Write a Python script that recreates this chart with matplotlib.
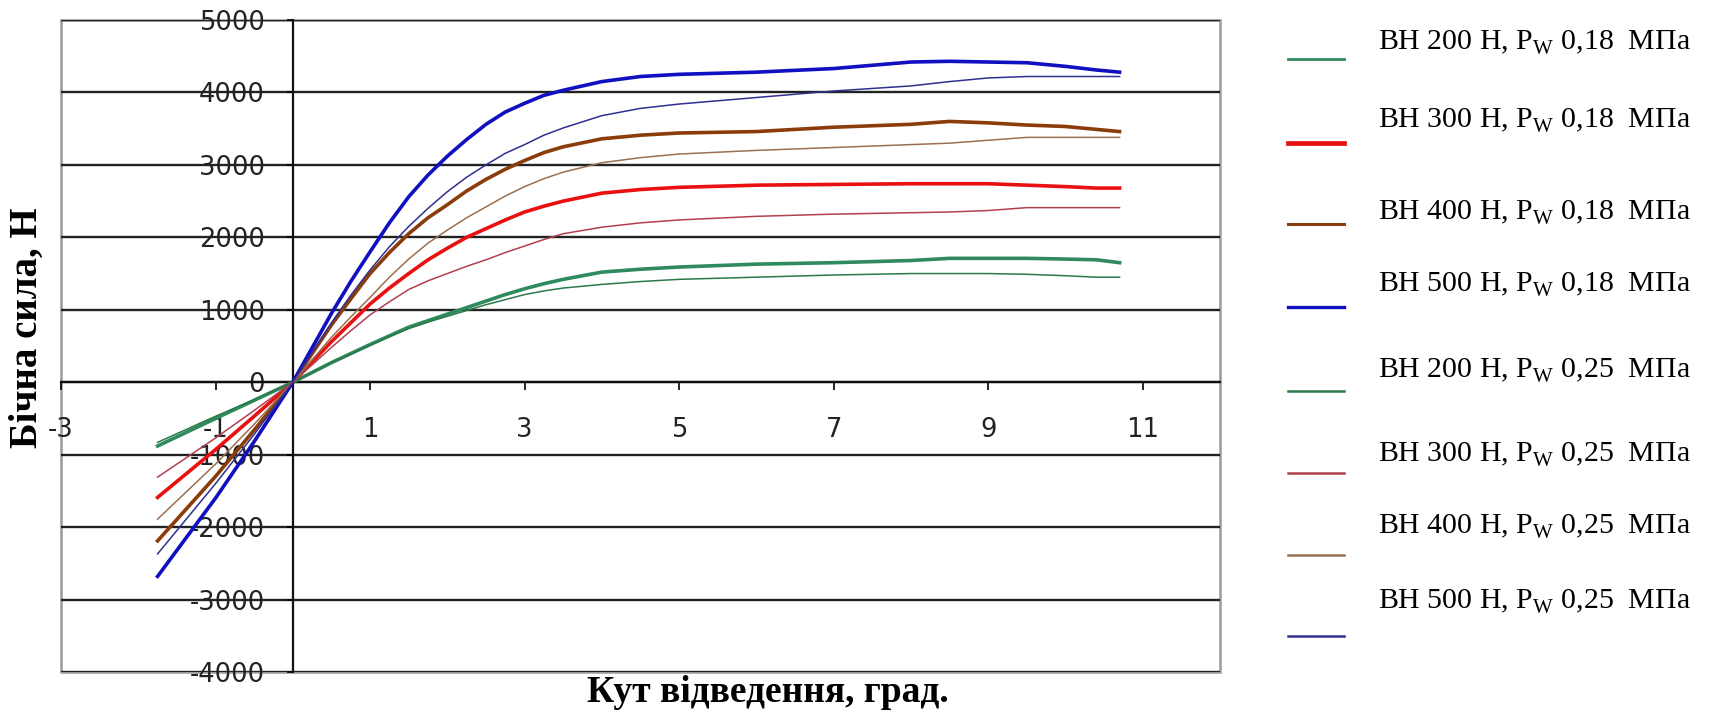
import numpy as np
import matplotlib
matplotlib.use('Agg')
import matplotlib.pyplot as plt
from matplotlib.lines import Line2D
from matplotlib.patches import Rectangle

plt.rcParams['axes.unicode_minus'] = False
plt.rcParams['mathtext.fontset'] = 'custom'
plt.rcParams['mathtext.rm'] = 'Liberation Serif'

# кут відведення, град.
kut = [-1.75, -1.0, -0.5, 0, 0.5, 0.75, 1.0, 1.25, 1.5, 1.75, 2.0, 2.25, 2.5, 2.75, 3.0,
       3.25, 3.5, 4.0, 4.5, 5.0, 6.0, 7.0, 8.0, 8.5, 9.0, 9.5, 10.0, 10.4, 10.7]

# бічна сила, Н  (Pw 0,18 МПа)
vn200_018 = [-880, -500, -250, 0, 270, 395, 520, 640, 760, 850, 940, 1030, 1120, 1210, 1290,
             1360, 1420, 1520, 1560, 1590, 1630, 1650, 1680, 1710, 1710, 1710, 1700, 1690, 1650]
vn300_018 = [-1590, -930, -470, 0, 560, 820, 1080, 1300, 1500, 1690, 1850, 2000, 2120, 2240, 2350,
             2430, 2500, 2610, 2660, 2690, 2720, 2730, 2740, 2740, 2740, 2720, 2700, 2680, 2680]
vn400_018 = [-2190, -1300, -660, 0, 790, 1150, 1500, 1790, 2050, 2270, 2450, 2640, 2800, 2940, 3060,
             3170, 3250, 3360, 3410, 3440, 3460, 3520, 3560, 3600, 3580, 3550, 3530, 3490, 3460]
vn500_018 = [-2680, -1600, -820, 0, 950, 1390, 1800, 2200, 2560, 2860, 3120, 3350, 3560, 3730, 3850,
             3960, 4030, 4150, 4220, 4250, 4280, 4330, 4420, 4430, 4420, 4410, 4360, 4310, 4280]
# бічна сила, Н  (Pw 0,25 МПа)
vn200_025 = [-830, -470, -240, 0, 270, 390, 510, 630, 740, 830, 910, 990, 1070, 1140, 1210,
             1260, 1300, 1350, 1390, 1420, 1450, 1480, 1500, 1500, 1500, 1490, 1470, 1450, 1450]
vn300_025 = [-1310, -770, -390, 0, 480, 710, 930, 1110, 1280, 1400, 1500, 1600, 1690, 1790, 1880,
             1970, 2050, 2140, 2200, 2240, 2290, 2320, 2340, 2350, 2370, 2410, 2410, 2410, 2410]
vn400_025 = [-1890, -1130, -580, 0, 620, 900, 1170, 1450, 1700, 1920, 2100, 2270, 2420, 2570, 2700,
             2810, 2900, 3030, 3100, 3150, 3200, 3240, 3280, 3300, 3340, 3380, 3380, 3380, 3380]
vn500_025 = [-2370, -1400, -720, 0, 820, 1200, 1550, 1870, 2150, 2400, 2630, 2830, 3000, 3160, 3280,
             3410, 3510, 3680, 3780, 3840, 3930, 4020, 4090, 4150, 4200, 4220, 4220, 4220, 4220]

labels = ['ВН 200 Н, P$_\\mathregular{W}$ 0,18  МПа', 'ВН 300 Н, P$_\\mathregular{W}$ 0,18  МПа',
          'ВН 400 Н, P$_\\mathregular{W}$ 0,18  МПа', 'ВН 500 Н, P$_\\mathregular{W}$ 0,18  МПа',
          'ВН 200 Н, P$_\\mathregular{W}$ 0,25  МПа', 'ВН 300 Н, P$_\\mathregular{W}$ 0,25  МПа',
          'ВН 400 Н, P$_\\mathregular{W}$ 0,25  МПа', 'ВН 500 Н, P$_\\mathregular{W}$ 0,25  МПа']
series = [vn200_018, vn300_018, vn400_018, vn500_018,
          vn200_025, vn300_025, vn400_025, vn500_025]
colors = ['#2f8a5e', '#e81010', '#8a3c0a', '#1010c0',
          '#2c7a4c', '#b04050', '#9a7050', '#303090']
widths = [2.6, 2.6, 2.6, 2.6, 1.1, 1.1, 1.1, 1.1]
leg_widths = [2.0, 3.4, 2.2, 2.4, 1.8, 1.8, 1.8, 1.8]

# положення рядків легенди (пікселі від верху)
leg_line_y = [59, 143, 224, 307, 391, 473, 555, 636]
leg_text_y = [43, 121, 213, 285, 371, 455, 527, 602]

fig = plt.figure(figsize=(17.12, 7.15), dpi=100, facecolor='w')
ax = fig.add_axes([61 / 1712, 43 / 715, 1159 / 1712, 652 / 715])

ax.set_xlim(-3, 12)
ax.set_ylim(-4000, 5000)
ax.set_xticks(np.arange(-3, 12, 2))
ax.set_yticks(np.arange(-4000, 5001, 1000))

# сітка
ax.grid(axis='y', color='#222222', linewidth=1.7)
ax.set_axisbelow(True)

for y, c, w in zip(series, colors, widths):
    ax.plot(kut, y, color=c, linewidth=w, solid_joinstyle='round', zorder=3)

# осі через нуль
for s in ['top', 'right']:
    ax.spines[s].set_visible(False)
ax.spines['left'].set_position(('data', 0))
ax.spines['bottom'].set_position(('data', 0))
ax.spines['left'].set_color('#111111')
ax.spines['bottom'].set_color('#111111')
ax.spines['left'].set_linewidth(1.6)
ax.spines['bottom'].set_linewidth(1.6)
ax.add_patch(Rectangle((0, 0), 1, 1, transform=ax.transAxes, fill=False,
                       edgecolor='#9a9a9a', linewidth=1.8, clip_on=False, zorder=0))

ax.tick_params(axis='x', direction='out', length=6, width=1.2, pad=19,
               labelsize=18.5, labelcolor='#222222')
ax.tick_params(axis='y', direction='out', length=4, width=1.2, pad=16,
               labelsize=18.5, labelcolor='#222222')
for t in ax.get_xticklabels() + ax.get_yticklabels():
    t.set_family('DejaVu Sans')

fig.text(768 / 1712, 1 - 693 / 715, 'Кут відведення, град.', family='Liberation Serif',
         fontsize=27, fontweight='bold', ha='center', va='center')
fig.text(27 / 1712, 1 - 328 / 715, 'Бічна сила, Н', family='Liberation Serif',
         fontsize=28, fontweight='bold', ha='center', va='center', rotation=90)

# легенда
for lab, c, lw, yl, yt in zip(labels, colors, leg_widths, leg_line_y, leg_text_y):
    fig.add_artist(Line2D([1288 / 1712, 1344 / 1712], [1 - yl / 715, 1 - yl / 715],
                          transform=fig.transFigure, color=c, linewidth=lw))
    fig.text(1378 / 1712, 1 - yt / 715, lab, family='Liberation Serif', fontsize=21.5,
             ha='left', va='center')

plt.savefig('out.png', dpi=100, facecolor='w')
